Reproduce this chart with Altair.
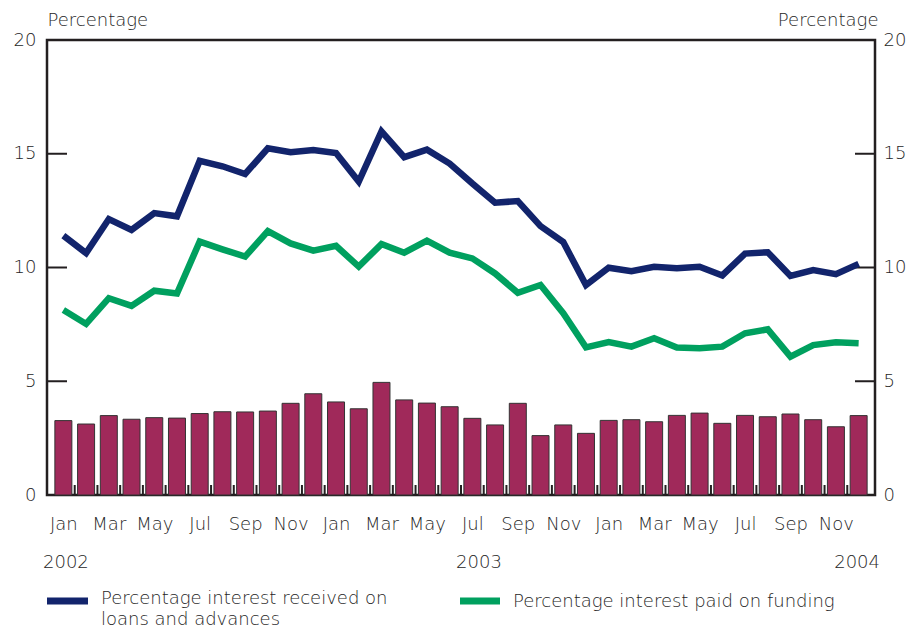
import altair as alt
import pandas as pd

# ---- data ----
months = ["Jan", "Feb", "Mar", "Apr", "May", "Jun", "Jul", "Aug", "Sep", "Oct", "Nov", "Dec"] * 3
bars = [3.27, 3.12, 3.49, 3.33, 3.40, 3.38, 3.58, 3.66, 3.65, 3.69, 4.03, 4.45,
        4.09, 3.79, 4.95, 4.18, 4.04, 3.88, 3.37, 3.08, 4.03, 2.61, 3.08, 2.71,
        3.28, 3.31, 3.22, 3.50, 3.60, 3.15, 3.50, 3.44, 3.56, 3.31, 3.00, 3.49]
received = [11.40, 10.63, 12.13, 11.65, 12.39, 12.25, 14.69, 14.45, 14.11, 15.24, 15.07, 15.16,
            15.03, 13.78, 15.98, 14.85, 15.18, 14.57, 13.69, 12.85, 12.92, 11.82, 11.12, 9.23,
            9.99, 9.84, 10.03, 9.97, 10.03, 9.65, 10.61, 10.67, 9.63, 9.89, 9.71, 10.16]
paid = [8.13, 7.52, 8.65, 8.31, 8.98, 8.86, 11.14, 10.80, 10.48, 11.60, 11.06, 10.74,
        10.95, 10.04, 11.03, 10.65, 11.18, 10.65, 10.40, 9.74, 8.89, 9.23, 7.99, 6.49,
        6.72, 6.52, 6.89, 6.48, 6.45, 6.52, 7.11, 7.28, 6.08, 6.59, 6.71, 6.67]
series_names = ["Percentage interest received on loans and advances",
                "Percentage interest paid on funding"]
years = ["2002", "2003", "2004"]
y_ticks = [5, 10, 15]

FONT = "DejaVu Sans"
FS = 18
FW = 300
TXT = "#262626"
BLUE = "#12246c"
GREEN = "#00a05f"
BAR = "#a0295a"
DARK = "#231f20"

W, H = 828, 455

df = pd.DataFrame({"i": list(range(36)), "month": months, "bar": bars,
                   "received": received, "paid": paid})
long = pd.concat([
    pd.DataFrame({"i": df["i"], "v": received, "s": series_names[0]}),
    pd.DataFrame({"i": df["i"], "v": paid, "s": series_names[1]}),
])

label_expr = "[" + ",".join(f"'{m}'" for m in months) + "][datum.value]"

xscale = alt.Scale(domain=[-0.5, 35.5], nice=False, zero=False)
yscale = alt.Scale(domain=[0, 20], nice=False)

xaxis = alt.Axis(values=list(range(0, 36, 2)), labelExpr=label_expr, tickSize=0,
                 domain=False, grid=False, labelPadding=20, labelFontSize=FS,
                 labelFont=FONT, labelFontWeight=FW, labelColor=TXT, title=None,
                 labelBaseline="top")

left_axis = alt.Axis(values=[0, 5, 10, 15, 20], tickSize=0, domain=False, grid=False,
                     labelPadding=11, labelFontSize=FS, labelFont=FONT, labelFontWeight=FW,
                     labelColor=TXT,
                     title="Percentage", titleAngle=0, titleX=0, titleY=-11,
                     titleAlign="left", titleBaseline="bottom", titleFont=FONT,
                     titleFontSize=FS, titleFontWeight=FW, titleColor=TXT,
                     orient="left")
right_axis = alt.Axis(values=[0, 5, 10, 15, 20], tickSize=0, domain=False, grid=False,
                      labelPadding=8, labelFontSize=FS, labelFont=FONT, labelFontWeight=FW,
                      labelColor=TXT,
                      title="Percentage", titleAngle=0, titleX=3, titleY=-11,
                      titleAlign="right", titleBaseline="bottom", titleFont=FONT,
                      titleFontSize=FS, titleFontWeight=FW, titleColor=TXT,
                      orient="right")

base = alt.Chart(df)

bar_layer = base.mark_bar(size=17, color=BAR, stroke="#333333", strokeWidth=1).encode(
    x=alt.X("i:Q", scale=xscale, axis=xaxis),
    y=alt.Y("bar:Q", scale=yscale, axis=left_axis),
)

line_layer = alt.Chart(long).mark_line(strokeWidth=6.5, strokeJoin="miter").encode(
    x=alt.X("i:Q", scale=xscale),
    y=alt.Y("v:Q", scale=yscale, axis=right_axis),
    color=alt.Color("s:N", scale=alt.Scale(domain=series_names, range=[BLUE, GREEN]), legend=None),
    detail="s:N",
)

# bottom month-boundary ticks
btick = base.transform_filter("datum.i < 35").transform_calculate(b="datum.i + 0.5").mark_rule(
    color=DARK, strokeWidth=2).encode(
    x=alt.X("b:Q", scale=xscale), y=alt.value(H), y2=alt.value(H - 10))

tick_df = pd.DataFrame({"t": y_ticks})
ltick = alt.Chart(tick_df).mark_rule(color=DARK, strokeWidth=2).encode(
    y=alt.Y("t:Q", scale=yscale, axis=None), x=alt.value(0), x2=alt.value(20))
rtick = alt.Chart(tick_df).mark_rule(color=DARK, strokeWidth=2).encode(
    y=alt.Y("t:Q", scale=yscale, axis=None), x=alt.value(W - 20), x2=alt.value(W))

# year labels
yr_style = dict(font=FONT, fontSize=FS, fontWeight=FW, color=TXT, baseline="middle")
y2002 = alt.Chart(pd.DataFrame({"t": [years[0]]})).mark_text(align="left", **yr_style).encode(
    text="t:N", x=alt.value(-4), y=alt.value(H + 68))
y2003 = alt.Chart(pd.DataFrame({"t": [years[1]]})).mark_text(align="center", **yr_style).encode(
    text="t:N", x=alt.value(432), y=alt.value(H + 68))
y2004 = alt.Chart(pd.DataFrame({"t": [years[2]]})).mark_text(align="right", **yr_style).encode(
    text="t:N", x=alt.value(W + 5), y=alt.value(H + 68))

# custom legend
sw1 = alt.Chart(pd.DataFrame({"s": [series_names[0]]})).mark_rule(color=BLUE, strokeWidth=7).encode(
    x=alt.value(0), x2=alt.value(41), y=alt.value(H + 106))
sw2 = alt.Chart(pd.DataFrame({"s": [series_names[1]]})).mark_rule(color=GREEN, strokeWidth=7).encode(
    x=alt.value(413), x2=alt.value(453), y=alt.value(H + 106))
lg_style = dict(font=FONT, fontSize=FS, fontWeight=FW, color=TXT, baseline="middle",
                align="left", lineHeight=21)
lt1 = alt.Chart(pd.DataFrame({"t": [["Percentage interest received on", "loans and advances"]]})).mark_text(
    **lg_style).encode(text="t", x=alt.value(54), y=alt.value(H + 104))
lt2 = alt.Chart(pd.DataFrame({"t": [series_names[1]]})).mark_text(**lg_style).encode(
    text="t:N", x=alt.value(466), y=alt.value(H + 107))

chart = alt.layer(
    bar_layer, btick, ltick, rtick, line_layer, y2002, y2003, y2004, sw1, sw2, lt1, lt2
).resolve_axis(y="independent").properties(
    width=W, height=H,
    background="white",
    autosize=alt.AutoSizeParams(type="none"),
    padding={"left": 39, "top": 32, "right": 32, "bottom": 134},
).configure_view(stroke=DARK, strokeWidth=2.5)

chart.save("out.html", embed_options={"renderer": "svg", "actions": False})
